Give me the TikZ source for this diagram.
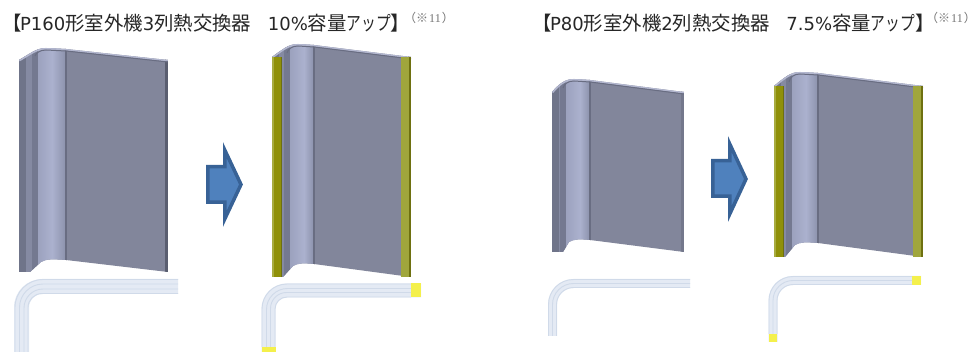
\documentclass[tikz,border=0pt]{standalone}
\usepackage{fontspec}
\setmainfont{Noto Sans CJK JP}
\newfontfamily\latinfont{DejaVu Sans}
\newfontfamily\notefont{Liberation Serif}
\newfontfamily\notecjk{Noto Sans CJK JP}
\newfontfamily\kanafont[FakeStretch=0.76]{Noto Sans CJK JP}
\newcommand{\lat}[1]{{\latinfont\fontsize{18}{20}\selectfont #1}}
\newcommand{\kana}[1]{{\kanafont #1}}
\newcommand{\notemark}{{\notecjk （※}\hspace{1pt}11\hspace{1pt}{\notecjk ）}}
\definecolor{mainf}{HTML}{82869B}
\definecolor{stripa}{HTML}{6F7489}
\definecolor{stripb}{HTML}{858AA2}
\definecolor{stripc}{HTML}{747990}
\definecolor{lightl}{HTML}{9CA2BE}
\definecolor{lightm}{HTML}{ABB1CE}
\definecolor{lightr}{HTML}{8E94AE}
\definecolor{seamc}{HTML}{696D82}
\definecolor{rimc}{HTML}{B4B8D0}
\definecolor{edgec}{HTML}{5A5E70}
\definecolor{edgel}{HTML}{74788C}
\definecolor{olive}{HTML}{8F9008}
\definecolor{olived}{HTML}{6E7010}
\definecolor{oliveo}{HTML}{A8AC40}
\definecolor{oliver}{HTML}{A0A63C}
\definecolor{tubef}{HTML}{E4EAF4}
\definecolor{tubel}{HTML}{D0DAE9}
\definecolor{tubey}{HTML}{F4F04C}
\definecolor{arrowf}{HTML}{4F81BD}
\definecolor{arrowd}{HTML}{386296}
\tikzset{
  x=1pt,y=-1pt,
  titletext/.style={anchor=west,inner sep=0pt,font=\fontsize{19.4}{22}\selectfont,text=black!85},
  notetext/.style={anchor=west,inner sep=0pt,font=\notefont\fontsize{12}{13}\selectfont,text=black!55},
  bigarrow/.style={fill=arrowf,draw=arrowd,line width=3.5pt,miter limit=8},
  tubeedge/.style={draw=tubel,line width=0.9pt,rounded corners=#1},
  yellowcap/.style={fill=tubey,draw=none},
}
% [edge colour] xL xStrip xSeam xR yPeak yTop yBottom ySeamBottom
\newcommand{\coilpanel}[9][edgec]{%
  \begin{scope}
    \path[clip] (#2,#7) .. controls (#3-7,#6+5) and (#3-1,#6) .. (#3+8,#6)
       -- (#4,#6+1) -- (#5,#7) -- (#5,#8) -- (#4,#9)
       .. controls (#3+14,#9-1) and (#3+8,#9-1) .. (#3+3,#9+2)
       -- (#2+11,#8) -- (#2,#8) -- cycle;
    \fill[mainf] (#2,#6-2) rectangle (#5,#8+2);
    \fill[stripa] (#2,#6-2) rectangle (#2+7,#8+2);
    \fill[stripb] (#2+7,#6-2) rectangle (#3-6,#8+2);
    \fill[stripc] (#3-6,#6-2) rectangle (#3,#8+2);
    \shade[left color=lightl,right color=lightm] (#3,#6-2) rectangle (#3+14,#8+2);
    \shade[left color=lightm,right color=lightr] (#3+14,#6-2) rectangle (#4-1,#8+2);
    \fill[seamc] (#4-1,#6-2) rectangle (#4+1,#8+2);
    \fill[#1] (#5-3,#6-2) rectangle (#5,#8+2);
    \draw[rimc,line width=3pt] (#2,#7) .. controls (#3-7,#6+5) and (#3-1,#6) .. (#3+8,#6)
       -- (#4,#6+1) -- (#5,#7);
    \draw[seamc,line width=1pt] (#3-3,#7-4) .. controls (#3-2,#6+5) and (#3+2,#6+2) .. (#3+8,#6+2)
       -- (#4,#6+3) -- (#5,#7+2);
  \end{scope}
}
% xL xR yTop yBottom
\newcommand{\coilyellow}[4]{%
  \fill[olive] (#1,#3) rectangle (#1+10,#4);
  \fill[oliveo] (#1,#3) rectangle (#1+2,#4);
  \fill[olived] (#1+8.5,#3) rectangle (#1+10,#4);
  \fill[oliver] (#2-10,#3) rectangle (#2,#4);
  \fill[olived] (#2-2,#3) rectangle (#2,#4);
}
% tube: xEnd yCentre xCentre yEnd halfwidth radius
\newcommand{\tubebody}[6]{%
  \draw[tubef,line width=2*#5,rounded corners=#6] (#1,#2) -- (#3,#2) -- (#3,#4);
}
\begin{document}
\begin{tikzpicture}
\useasboundingbox (0,0) rectangle (974,352);
\fill[white] (0,0) rectangle (974,352);

% titles
\node[titletext] (title1) at (2,23) {【\hspace{-1.5pt}\lat{P160}形室外機\lat{3}列熱交換器\hspace{0.85em}\lat{10\%}容量\kana{アップ}】};
\node[notetext] (note1) at (404,18) {\notemark};
\node[titletext] (title2) at (532,23) {【\hspace{-1.5pt}\lat{P80}形室外機\lat{2}列熱交換器\hspace{0.85em}\lat{7.5\%}容量\kana{アップ}】};
\node[notetext] (note2) at (926,18) {\notemark};

% coil panels
\coilpanel{19}{38}{66}{168}{48}{60}{272}{260}
\coilpanel{272}{290}{314}{411}{44}{57}{277}{264}
\coilyellow{272}{411}{57}{277}
\coilpanel[edgel]{552}{566}{590}{684}{79}{92}{252}{240}
\coilpanel[edgel]{774}{792}{818}{923}{72}{86}{257}{243}
\coilyellow{774}{923}{86}{257}

% arrows
\draw[bigarrow] (207.75,166.75) -- (224.75,166.75) -- (224.75,150) -- (241,184.5) -- (224.75,219) -- (224.75,202.25) -- (207.75,202.25) -- cycle;
\draw[bigarrow] (712.75,160.75) -- (729.75,160.75) -- (729.75,144) -- (746,179) -- (729.75,214) -- (729.75,196.25) -- (712.75,196.25) -- cycle;

% tube 1 (three rows)
\tubebody{178}{286.5}{21.5}{352}{7.5}{21}
\draw[tubeedge=28] (178,279.5) -- (15,279.5) -- (15,352);
\draw[tubeedge=23.5] (178,284) -- (19.5,284) -- (19.5,352);
\draw[tubeedge=19] (178,289) -- (24,289) -- (24,352);
\draw[tubeedge=14] (178,293.5) -- (28,293.5) -- (28,352);
% tube 2 (three rows)
\tubebody{421}{290.5}{268.5}{352}{7}{18.5}
\fill[yellowcap] (411,283.5) rectangle (421,297.5);
\fill[yellowcap] (261.5,347) rectangle (275.5,352);
\draw[tubeedge=25] (411,284) -- (262,284) -- (262,347);
\draw[tubeedge=21] (411,288.5) -- (266.5,288.5) -- (266.5,347);
\draw[tubeedge=16] (411,292.5) -- (270.5,292.5) -- (270.5,347);
\draw[tubeedge=12] (411,297) -- (275,297) -- (275,347);
% tube 3 (two rows)
\tubebody{690}{283.5}{552.5}{336}{4.5}{21}
\draw[tubeedge=25] (690,279.5) -- (548.5,279.5) -- (548.5,336);
\draw[tubeedge=21] (690,283.5) -- (552.5,283.5) -- (552.5,336);
\draw[tubeedge=17] (690,287.5) -- (556.5,287.5) -- (556.5,336);
% tube 4 (two rows)
\tubebody{921}{280.5}{773}{342}{4.5}{20}
\fill[yellowcap] (912,276) rectangle (921,285);
\fill[yellowcap] (769,334) rectangle (777,342);
\draw[tubeedge=24] (912,276.5) -- (769,276.5) -- (769,334);
\draw[tubeedge=20] (912,280.5) -- (773,280.5) -- (773,334);
\draw[tubeedge=16] (912,284.5) -- (777,284.5) -- (777,334);
\end{tikzpicture}
\end{document}
